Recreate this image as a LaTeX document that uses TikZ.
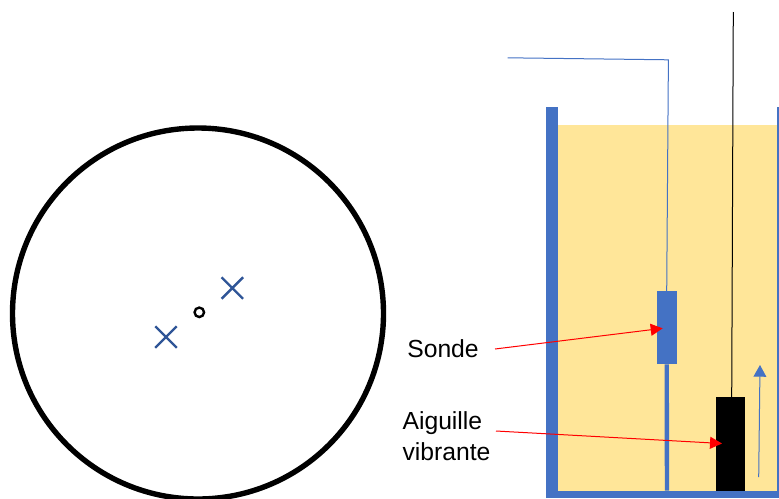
\documentclass[tikz,border=0pt]{standalone}
\usepackage{fontspec}
\setmainfont{Liberation Sans}
\usetikzlibrary{arrows.meta, shapes.misc}
\definecolor{tankblue}{RGB}{68, 114, 196}
\definecolor{crossblue}{RGB}{47, 85, 151}
\definecolor{liquid}{RGB}{255, 230, 153}
\definecolor{pointer}{RGB}{255, 0, 0}

\begin{document}
\begin{tikzpicture}[
            x=1pt, y=-1pt,
            crossmark/.style={cross out, draw=crossblue, line width=2.4pt, minimum size=21.5pt, inner sep=0pt, outer sep=0pt},
            label/.style={align=left, inner sep=0pt, font=\fontsize{24.7pt}{31pt}\selectfont},
            block/.style={inner sep=0pt, outer sep=0pt, minimum width=#1},
            wire/.style={tankblue, line width=1pt},
            pointerline/.style={-{Triangle[length=12pt,width=12pt]}, pointer, line width=1pt}
        ]
            \useasboundingbox (0,0) rectangle (779,498);

            % left view
            \node[circle, draw=black, line width=5.4pt, minimum size=371pt, inner sep=0pt] (vessel) at (198,313.5) {};
            \node[circle, draw=black, line width=2.4pt, minimum size=9.5pt, inner sep=0pt] (axis) at (199.3,312.3) {};
            \node[crossmark] (crossup) at (232.3,288) {};
            \node[crossmark] (crossdown) at (166,337) {};

            % tank
            \fill[liquid] (557,125) rectangle (777,491);
            \fill[tankblue] (546,107) rectangle (557.5,498);
            \fill[tankblue] (777,107) rectangle (779,498);
            \fill[tankblue] (546,490.5) rectangle (779,498);

            \node[block=20pt, fill=tankblue, minimum height=73pt] (probe) at (666.7,327.8) {};
            \node[block=29.3pt, fill=black, minimum height=93.2pt] (needle) at (730.3,443.9) {};

            \coordinate (wirestart) at (507.5,57.8);
            \coordinate (wirebend) at (668.4,59.8);
            \coordinate (stemfoot) at (667,490.5);
            \coordinate (needletop) at (733.3,12);
            \coordinate (risefoot) at (758.7,477);
            \coordinate (risetip) at (760,365);

            \draw[wire] (wirestart) -- (wirebend) -- (probe.north);
            \draw[tankblue, line width=4.4pt] (probe.south) -- (stemfoot);
            \draw[black, line width=1pt] (needletop) -- ([xshift=1.4pt]needle.north);
            \draw[-{Triangle[length=11.7pt,width=12.7pt]}, wire] (risefoot) -- (risetip);

            % labels
            \node[label, anchor=center] (sonde) at (443,349) {Sonde};
            \node[label, anchor=center] (aiguille) at (446.5,436) {Aiguille\\vibrante};

            \coordinate (sondefrom) at (495,349);
            \coordinate (sondeto) at (662.7,328.3);
            \coordinate (aiguillefrom) at (496,431);
            \coordinate (aiguilleto) at (722,443.5);

            \draw[pointerline] (sondefrom) -- (sondeto);
            \draw[pointerline] (aiguillefrom) -- (aiguilleto);
        \end{tikzpicture}
\end{document}
